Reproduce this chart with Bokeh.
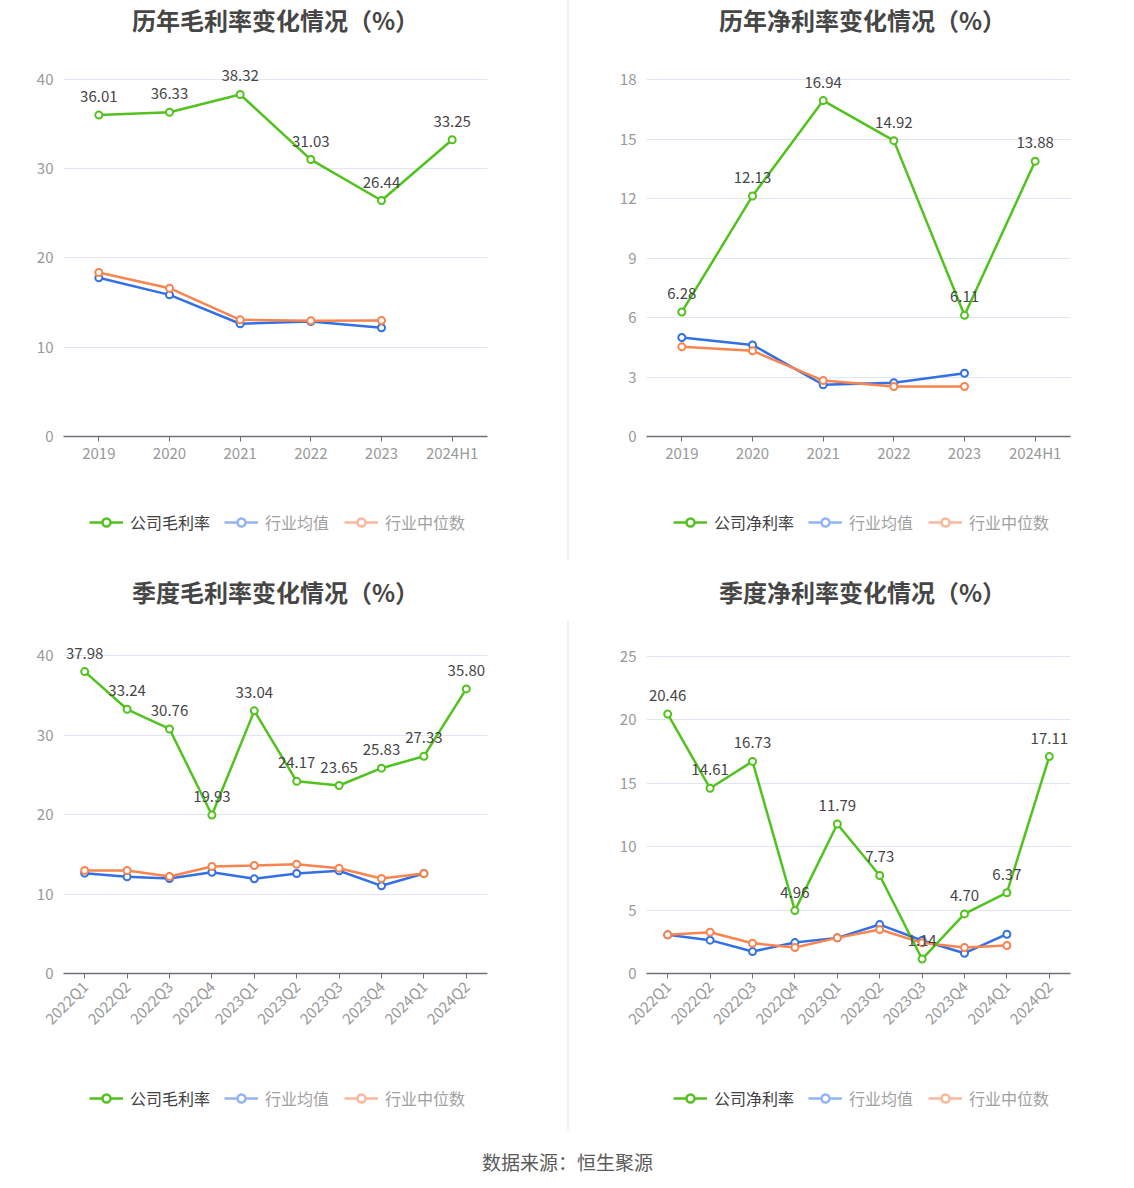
import math
from bokeh.plotting import figure
from bokeh.models import Range1d, FixedTicker, Legend, LegendItem
from bokeh.layouts import column, row
from bokeh.embed import file_html
from bokeh.resources import INLINE

FONT = "Noto Sans CJK SC"

years = ["2019", "2020", "2021", "2022", "2023", "2024H1"]
ann_gross_company = [36.01, 36.33, 38.32, 31.03, 26.44, 33.25]
ann_gross_avg = [17.78, 15.87, 12.63, 12.88, 12.18]
ann_gross_median = [18.38, 16.62, 13.07, 12.96, 13.00]

ann_net_company = [6.28, 12.13, 16.94, 14.92, 6.11, 13.88]
ann_net_avg = [4.99, 4.62, 2.61, 2.71, 3.19]
ann_net_median = [4.52, 4.32, 2.82, 2.52, 2.52]

quarters = ["2022Q1", "2022Q2", "2022Q3", "2022Q4", "2023Q1", "2023Q2",
            "2023Q3", "2023Q4", "2024Q1", "2024Q2"]
q_gross_company = [37.98, 33.24, 30.76, 19.93, 33.04, 24.17, 23.65, 25.83, 27.33, 35.80]
q_gross_avg = [12.62, 12.16, 11.95, 12.74, 11.91, 12.58, 12.92, 11.03, 12.58]
q_gross_median = [12.96, 12.96, 12.20, 13.46, 13.58, 13.75, 13.25, 11.95, 12.58]

q_net_company = [20.46, 14.61, 16.73, 4.96, 11.79, 7.73, 1.14, 4.70, 6.37, 17.11]
q_net_avg = [3.05, 2.63, 1.73, 2.44, 2.81, 3.86, 2.60, 1.60, 3.10]
q_net_median = [3.05, 3.26, 2.39, 2.05, 2.81, 3.47, 2.42, 2.05, 2.21]

GREEN = "#52c21f"
BLUE = "#3370e6"
ORANGE = "#f8844f"
BLUE_L = "#93b4f4"
ORANGE_L = "#f9b89c"

SEP = {"border-left": "2px solid #f0f0f0"}
NOSEP = {"border-left": "2px solid #ffffff"}


def blank_fig(width, height):
    f = figure(width=width, height=height, x_range=Range1d(0, 1), y_range=Range1d(0, 1),
               output_backend="svg", toolbar_location=None,
               min_border_left=0, min_border_right=0, min_border_top=0, min_border_bottom=0)
    f.axis.visible = False
    f.grid.visible = False
    f.outline_line_color = None
    return f


def title_fig(text, width, height, xc, yc):
    f = blank_fig(width, height)
    f.text([xc], [yc], text=[text], text_align="center", text_baseline="middle",
           text_font_size="24px", text_font_style="bold", text_color="#464646",
           text_font={"value": FONT})
    return f


def legend_fig(comp_name, width, height, xa, xb, y):
    f = blank_fig(width, height)
    hx, hy = [-10, -9], [-10, -9]  # outside the visible range: legend icons only
    db_l = f.line(hx, hy, line_color=BLUE_L, line_width=2.5)
    db_s = f.scatter(hx, hy, size=15, line_color=BLUE_L, line_width=2.5, fill_color="white")
    do_l = f.line(hx, hy, line_color=ORANGE_L, line_width=2.5)
    do_s = f.scatter(hx, hy, size=15, line_color=ORANGE_L, line_width=2.5, fill_color="white")
    dc_l = f.line(hx, hy, line_color=GREEN, line_width=2.5)
    dc_s = f.scatter(hx, hy, size=15, line_color=GREEN, line_width=2.5, fill_color="white")
    common = dict(orientation="horizontal", padding=0, margin=0, border_line_color=None,
                  background_fill_alpha=0, glyph_width=34, glyph_height=20, label_height=20,
                  label_standoff=7, spacing=15, label_text_font=FONT,
                  label_text_font_size="16px", label_text_baseline="middle")
    legA = Legend(items=[LegendItem(label=comp_name, renderers=[dc_l, dc_s])],
                  location=(xa, y), label_text_color="#404040", **common)
    legB = Legend(items=[LegendItem(label="行业均值", renderers=[db_l, db_s]),
                         LegendItem(label="行业中位数", renderers=[do_l, do_s])],
                  location=(xb, y), label_text_color="#a0a0a0", **common)
    f.add_layout(legA, "center")
    f.add_layout(legB, "center")
    return f


def chart_fig(cats, comp, avg, med, yend, ticks, rotate, width, height, bl, br, bt, bb):
    p = figure(x_range=cats, y_range=Range1d(0, yend), width=width, height=height,
               output_backend="svg", toolbar_location=None,
               min_border_left=bl, min_border_right=br,
               min_border_top=bt, min_border_bottom=bb)
    p.outline_line_color = None
    p.xgrid.grid_line_color = None
    p.ygrid.grid_line_color = "#e0e6f1"
    p.ygrid.grid_line_width = 1
    p.yaxis.ticker = FixedTicker(ticks=ticks)
    p.yaxis.axis_line_color = None
    p.yaxis.major_tick_line_color = None
    p.yaxis.minor_tick_line_color = None
    p.yaxis.major_tick_out = 0
    p.yaxis.major_label_standoff = 10
    p.yaxis.major_label_text_font = FONT
    p.yaxis.major_label_text_font_size = "15px"
    p.yaxis.major_label_text_color = "#999999"

    p.xaxis.axis_line_color = "#6e7079"
    p.xaxis.axis_line_width = 1.5
    p.xaxis.major_tick_line_color = "#6e7079"
    p.xaxis.major_tick_out = 5
    p.xaxis.major_tick_in = 0
    p.xaxis.major_label_standoff = 0 if not rotate else 5
    p.xaxis.major_label_text_font = FONT
    p.xaxis.major_label_text_font_size = "15px"
    p.xaxis.major_label_text_color = "#999999"
    if rotate:
        p.xaxis.major_label_orientation = math.pi / 4

    n_ind = len(avg)
    p.line(cats[:n_ind], avg, line_color=BLUE, line_width=2.5)
    p.scatter(cats[:n_ind], avg, size=7, line_color=BLUE, line_width=2, fill_color="white")
    p.line(cats[:n_ind], med, line_color=ORANGE, line_width=2.5)
    p.scatter(cats[:n_ind], med, size=7, line_color=ORANGE, line_width=2, fill_color="white")
    p.line(cats, comp, line_color=GREEN, line_width=2.5)
    p.scatter(cats, comp, size=7, line_color=GREEN, line_width=2, fill_color="white")
    p.text(cats, comp, text=[f"{v:.2f}" for v in comp], text_align="center",
           text_baseline="bottom", y_offset=-13, text_font_size="15px",
           text_color="#464646", text_font={"value": FONT})
    return p


LW = 567   # left column width
RW = 565   # right column content width (plus 2px separator)
FW = 424   # plot frame width
LB_L = 63  # left column frame left edge
LB_R = 77  # right column frame offset (after 2px separator)

# top row
t1 = title_fig("历年毛利率变化情况（%）", LW, 60, (275 - 63) / FW, 1 - 19 / 60)
c1 = chart_fig(years, ann_gross_company, ann_gross_avg, ann_gross_median, 41.68,
               [0, 10, 20, 30, 40], False, LW, 420, LB_L, LW - LB_L - FW, 4, 44)
l1 = legend_fig("公司毛利率", LW, 80, 26, 161, 26)

t2 = title_fig("历年净利率变化情况（%）", RW, 60, (862 - 646) / FW, 1 - 19 / 60)
c2 = chart_fig(years, ann_net_company, ann_net_avg, ann_net_median, 18.76,
               [0, 3, 6, 9, 12, 15, 18], False, RW, 420, LB_R, RW - LB_R - FW, 4, 44)
l2 = legend_fig("公司净利率", RW, 80, 27, 162, 26)

# bottom row
t3 = title_fig("季度毛利率变化情况（%）", LW, 60, (275 - 63) / FW, 1 - 31 / 60)
c3 = chart_fig(quarters, q_gross_company, q_gross_avg, q_gross_median, 42.52,
               [0, 10, 20, 30, 40], True, LW, 440, LB_L, LW - LB_L - FW, 15, 87)
l3 = legend_fig("公司毛利率", LW, 70, 26, 161, 20)

t4 = title_fig("季度净利率变化情况（%）", RW, 60, (862 - 646) / FW, 1 - 31 / 60)
c4 = chart_fig(quarters, q_net_company, q_net_avg, q_net_median, 26.66,
               [0, 5, 10, 15, 20, 25], True, RW, 440, LB_R, RW - LB_R - FW, 15, 87)
l4 = legend_fig("公司净利率", RW, 70, 27, 162, 20)

for f in (t2, c2, l2, c4, l4):
    f.styles = SEP
t4.styles = NOSEP

footer = blank_fig(LW + RW + 2, 50)
footer.text([0.5], [0.38], text=["数据来源：恒生聚源"], text_align="center", text_baseline="middle",
            text_font_size="19px", text_color="#5a5a5a", text_font={"value": FONT})

layout = column(
    row(column(t1, c1, l1), column(t2, c2, l2)),
    row(column(t3, c3, l3), column(t4, c4, l4)),
    footer,
)

open("out.html", "w").write(file_html(layout, INLINE))
